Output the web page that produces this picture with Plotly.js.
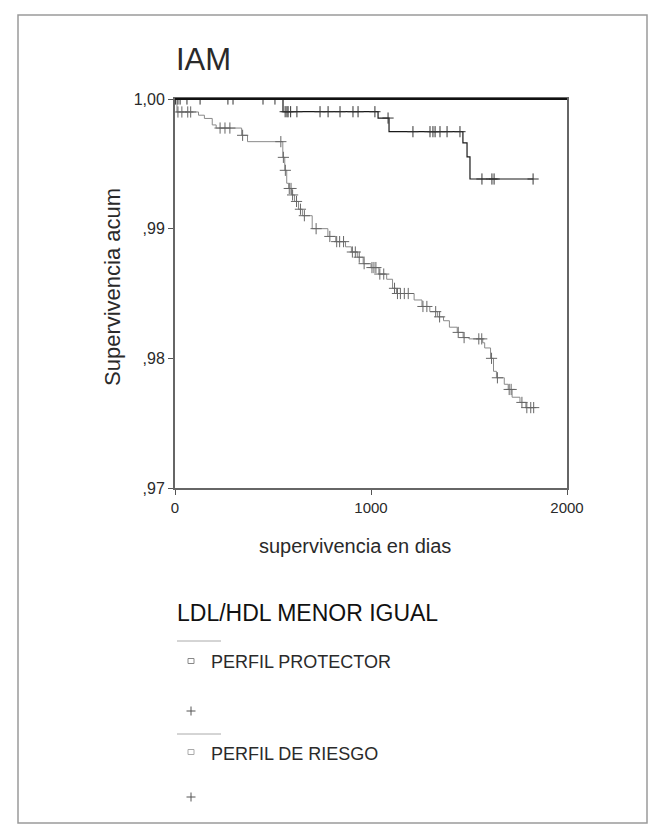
<!DOCTYPE html>
<html>
<head>
<meta charset="utf-8">
<script src="https://cdn.plot.ly/plotly-3.0.1.min.js"></script>
<style>
html,body{margin:0;padding:0;background:#fff;}
#chart{width:665px;height:826px;}
</style>
</head>
<body>
<div id="chart"></div>
<script>
// ---- data ----
const titleText = "IAM";
const yTitle = "Supervivencia acum";
const xTitle = "supervivencia en dias";
const legendTitle = "LDL/HDL MENOR IGUAL";
const groupNames = ["PERFIL PROTECTOR", "PERFIL DE RIESGO"];
const yTickVals = [0.97, 0.98, 0.99, 1.00];
const yTickText = [",97", ",98", ",99", "1,00"];
const xTickVals = [0, 1000, 2000];

// PERFIL PROTECTOR: step times (days) and cumulative survival
const protTimes = [0, 551, 1036, 1092, 1469, 1490, 1505];
const protSurv  = [1.0, 0.99902, 0.99853, 0.99748, 0.99661, 0.99553, 0.99383];
const protEnd = 1827;
const protCensored = [3, 15, 26, 61, 128, 270, 296, 449, 510, 562, 571, 577, 590, 622, 740, 781, 842, 908, 934, 1020, 1087, 1214, 1301, 1316, 1327, 1352, 1388, 1454, 1566, 1617, 1628, 1827];

// PERFIL DE RIESGO
const riskTimes = [0, 10, 120, 150, 190, 210, 340, 370, 550, 560, 570, 580, 595, 610, 630, 650, 700, 780, 820, 870, 900, 930, 960, 1000, 1040, 1080, 1110, 1130, 1220, 1260, 1300, 1340, 1370, 1400, 1440, 1470, 1500, 1570, 1580, 1610, 1625, 1640, 1680, 1700, 1720, 1760, 1790];
const riskSurv  = [1.0, 0.9990, 0.99875, 0.9985, 0.9980, 0.99776, 0.9972, 0.99671, 0.9955, 0.9945, 0.9935, 0.9931, 0.9926, 0.9921, 0.9915, 0.9910, 0.9900, 0.9894, 0.9890, 0.9886, 0.9882, 0.9878, 0.9873, 0.9870, 0.9865, 0.9861, 0.9854, 0.9850, 0.9845, 0.9840, 0.9836, 0.9832, 0.9829, 0.9824, 0.9820, 0.9816, 0.9815, 0.9812, 0.9808, 0.9800, 0.9790, 0.9785, 0.9780, 0.9776, 0.9770, 0.9766, 0.9762];
const riskEnd = 1830;
const riskCensored = [15, 35, 65, 80, 230, 255, 280, 345, 540, 553, 563, 583, 592, 600, 620, 640, 660, 720, 790, 825, 840, 860, 905, 920, 940, 965, 1005, 1015, 1025, 1045, 1065, 1120, 1135, 1150, 1170, 1190, 1265, 1285, 1330, 1350, 1445, 1475, 1550, 1565, 1615, 1645, 1705, 1715, 1770, 1795, 1815, 1830];

// ---- helpers ----
function survAt(times, surv, t){
  let s = surv[0];
  for (let i=0;i<times.length;i++){ if (times[i] <= t) s = surv[i]; }
  return s;
}
function stepXY(times, surv, end){
  return {x: times.concat([end]), y: surv.concat([surv[surv.length-1]])};
}

const protColor = "#1a1a1a";
const riskColor = "#8a8a8a";

const p = stepXY(protTimes, protSurv, protEnd);
const r = stepXY(riskTimes, riskSurv, riskEnd);

const traces = [
  {x: r.x, y: r.y, mode: "lines", line: {shape: "hv", color: riskColor, width: 1}, hoverinfo: "skip", name: groupNames[1]},
  {x: riskCensored, y: riskCensored.map(t => survAt(riskTimes, riskSurv, t)), mode: "markers",
   marker: {symbol: "cross-thin-open", size: 8, color: "#666", line: {width: 1, color: "#666"}}, hoverinfo: "skip"},
  {x: p.x, y: p.y, mode: "lines", line: {shape: "hv", color: protColor, width: 1.2}, hoverinfo: "skip", name: groupNames[0]},
  {x: protCensored, y: protCensored.map(t => survAt(protTimes, protSurv, t)), mode: "markers",
   marker: {symbol: "cross-thin-open", size: 8, color: "#333", line: {width: 1, color: "#333"}}, hoverinfo: "skip"}
];

// pixel -> paper helpers (plot area: x 175..567, y 99..488)
const L = 175, R = 567, T = 99, B = 488;
const px = v => (v - L) / (R - L);
const py = v => (B - v) / (B - T);

const txt = "#2a2a2a";
const font = "Liberation Sans, Arial, sans-serif";

function plusShapes(cx, cy, h, color){
  return [
    {type: "line", xref: "paper", yref: "paper", x0: px(cx - h), x1: px(cx + h), y0: py(cy), y1: py(cy), line: {color: color, width: 1}},
    {type: "line", xref: "paper", yref: "paper", x0: px(cx), x1: px(cx), y0: py(cy - h), y1: py(cy + h), line: {color: color, width: 1}}
  ];
}
function squareShape(cx, cy, w, h, color){
  return {type: "rect", xref: "paper", yref: "paper", x0: px(cx - w), x1: px(cx + w), y0: py(cy + h), y1: py(cy - h),
          line: {color: color, width: 1}};
}

const layout = {
  width: 665, height: 826,
  margin: {l: L, r: 665 - R, t: T, b: 826 - B, pad: 0},
  paper_bgcolor: "#fff", plot_bgcolor: "#fff",
  showlegend: false,
  font: {family: font, color: txt},
  xaxis: {
    range: [0, 2000], tickvals: xTickVals, ticktext: xTickVals.map(String),
    showgrid: false, zeroline: false, showline: true, mirror: true,
    linecolor: "#666", linewidth: 2, ticks: "outside", ticklen: 5, tickcolor: "#555",
    tickfont: {size: 15, color: txt}
  },
  yaxis: {
    range: [0.97, 1.0], tickvals: yTickVals, ticktext: yTickText,
    showgrid: false, zeroline: false, showline: true, mirror: true,
    linecolor: "#666", linewidth: 2, ticks: "outside", ticklen: 5, tickcolor: "#555",
    tickfont: {size: 16, color: txt}
  },
  shapes: [
    {type: "rect", xref: "paper", yref: "paper", x0: px(18), x1: px(647), y0: py(823), y1: py(15),
     line: {color: "#9a9a9a", width: 1.5}},
    {type: "line", xref: "paper", yref: "paper", x0: 0, x1: 1, y0: 1, y1: 1,
     line: {color: "#111", width: 2}},
    {type: "line", xref: "paper", yref: "paper", x0: px(177), x1: px(221), y0: py(641), y1: py(641),
     line: {color: "#aaa", width: 1}},
    {type: "line", xref: "paper", yref: "paper", x0: px(177), x1: px(221), y0: py(734), y1: py(734),
     line: {color: "#aaa", width: 1}},
    squareShape(191, 661, 3, 2.5, "#888"),
    squareShape(191, 752, 3, 2.5, "#aaa")
  ].concat(plusShapes(191, 711, 4.5, "#555")).concat(plusShapes(191, 797, 4.5, "#555")),
  annotations: [
    {text: titleText, xref: "paper", yref: "paper", x: px(174), y: py(59), xanchor: "left", yanchor: "middle",
     showarrow: false, font: {size: 31, color: txt}},
    {text: yTitle, xref: "paper", yref: "paper", x: px(112), y: py(287), xanchor: "center", yanchor: "middle",
     textangle: -90, showarrow: false, font: {size: 22, color: txt}},
    {text: xTitle, xref: "paper", yref: "paper", x: px(355), y: py(546), xanchor: "center", yanchor: "middle",
     showarrow: false, font: {size: 20, color: txt}},
    {text: legendTitle, xref: "paper", yref: "paper", x: px(175), y: py(613), xanchor: "left", yanchor: "middle",
     showarrow: false, font: {size: 23, color: "#111"}},
    {text: groupNames[0], xref: "paper", yref: "paper", x: px(209), y: py(662), xanchor: "left", yanchor: "middle",
     showarrow: false, font: {size: 18, color: txt}},
    {text: groupNames[1], xref: "paper", yref: "paper", x: px(209), y: py(754), xanchor: "left", yanchor: "middle",
     showarrow: false, font: {size: 18, color: txt}}
  ]
};

Plotly.newPlot("chart", traces, layout, {staticPlot: true, displayModeBar: false});
</script>
</body>
</html>
